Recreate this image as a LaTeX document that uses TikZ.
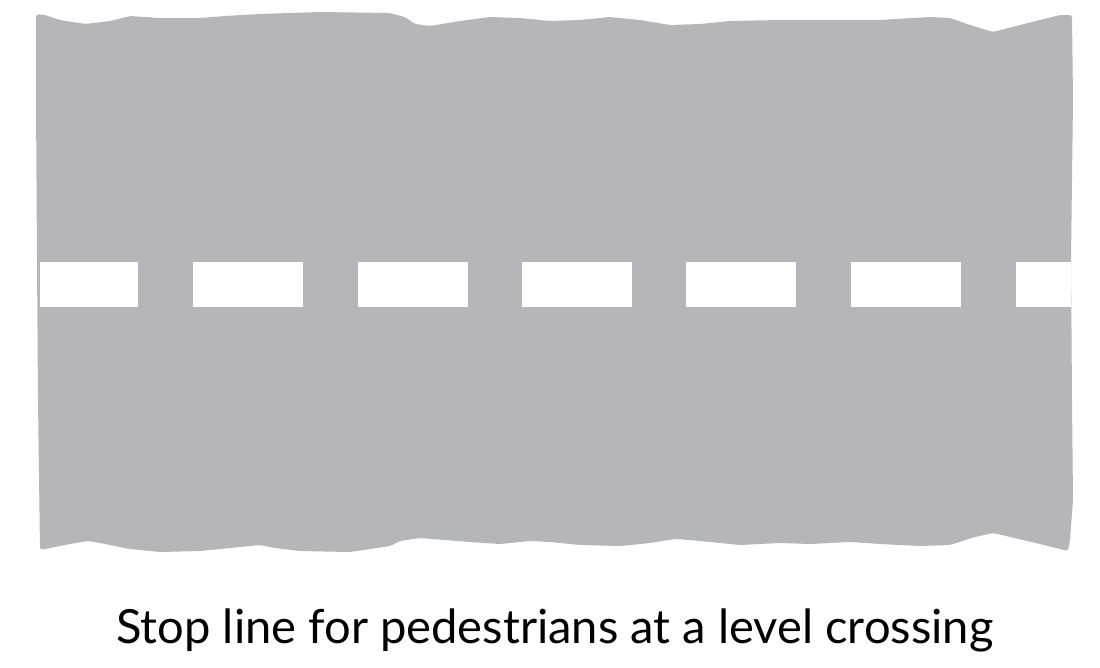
\documentclass[tikz,border=0pt]{standalone}
\usepackage{fontspec}
\setmainfont{Lato}
\definecolor{roadGray}{HTML}{B5B6BA}
\begin{document}
\begin{tikzpicture}[
  x=0.025cm, y=-0.025cm,
  roadFill/.style   ={fill=roadGray, draw=none, rounded corners=2pt},
  dashFill/.style   ={fill=white, draw=none},
  captionNode/.style={anchor=base, inner sep=0pt, font=\fontsize{33.5}{39}\selectfont}
]
\useasboundingbox (0,0) rectangle (1100,667);

% ================== ROAD SURFACE (ragged edges) ==================
\fill[roadFill]
  % top edge, left to right
  (36,14) -- (45,15) -- (60,20) -- (85,24) -- (110,21) -- (130,16) -- (160,18)
  -- (200,18) -- (225,16) -- (260,14) -- (290,13) -- (320,12) -- (390,13)
  -- (405,17) -- (415,24) -- (430,26) -- (460,21) -- (490,17) -- (520,18)
  -- (550,21) -- (580,20) -- (610,17) -- (640,20) -- (670,25) -- (700,24)
  -- (730,21) -- (780,20) -- (830,20) -- (880,20) -- (930,17) -- (950,18)
  -- (970,25) -- (993,32) -- (1020,25) -- (1060,15) -- (1072,15)
  % right edge
  -- (1073,100) -- (1071,260) -- (1072,400) -- (1073,500) -- (1070,540) -- (1068,551)
  % bottom edge, right to left
  -- (1040,544) -- (1010,537) -- (993,533) -- (975,537) -- (950,545) -- (920,546)
  -- (880,544) -- (850,542) -- (810,544) -- (780,543) -- (740,545) -- (720,543)
  -- (690,540) -- (675,539) -- (650,543) -- (620,546) -- (580,545) -- (550,542)
  -- (530,541) -- (500,544) -- (470,542) -- (420,538) -- (400,541) -- (390,546)
  -- (350,552) -- (300,551) -- (275,548) -- (260,545) -- (230,548) -- (200,551)
  -- (160,552) -- (130,549) -- (100,543) -- (88,541) -- (70,544) -- (55,547)
  -- (40,550)
  % left edge
  -- (38,400) -- (37,260) -- (36,100) -- cycle;

% ================== STOP LINE DASHES ==================
\fill[dashFill] (40,262) rectangle (138,307);
\foreach \dx in {193,358,522,686,851} {
  \fill[dashFill] (\dx,262) rectangle ++(110,45);
}
\fill[dashFill] (1016,262) rectangle (1071,307);

% ================== CAPTION ==================
\node[captionNode] (caption) at (555,643) {Stop line for pedestrians at a level crossing};

\end{tikzpicture}
\end{document}
